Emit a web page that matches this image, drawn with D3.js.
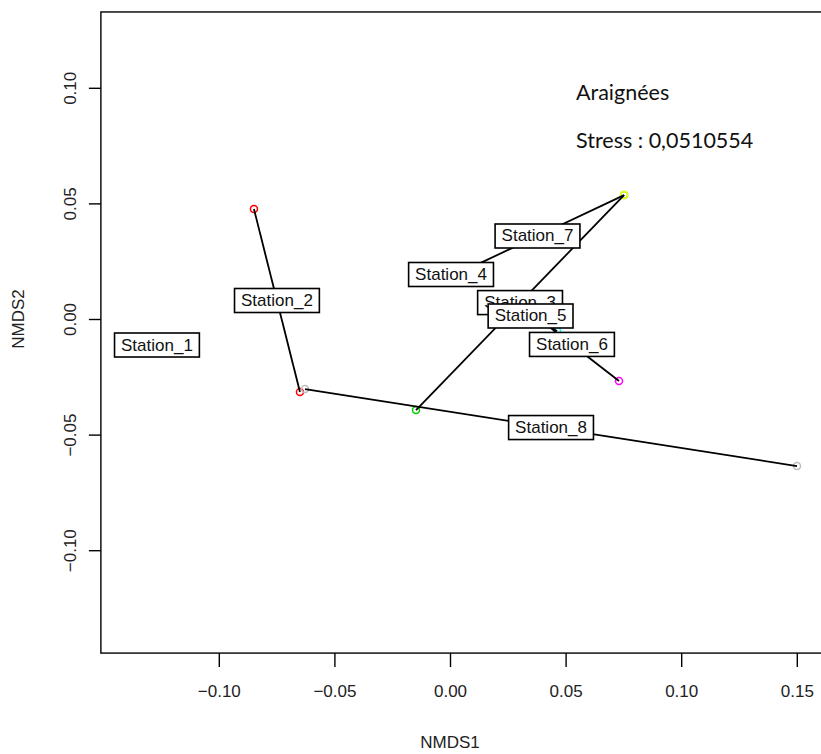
<!DOCTYPE html>
<html>
<head>
<meta charset="utf-8">
<script src="https://cdn.jsdelivr.net/npm/d3@7/dist/d3.min.js"></script>
<style>
  html, body { margin: 0; padding: 0; background: #fff; }
  svg { display: block; }
</style>
</head>
<body>
<div id="chart"></div>
<script>
// ---- data ----
const stations = ["Station_1","Station_2","Station_3","Station_4","Station_5","Station_6","Station_7","Station_8"];
const stationColors = ["black","red","#00CD00","blue","cyan","magenta","yellow","#BEBEBE"];
const sampleStation = [0,0, 1,1, 2,2, 3,3, 4,4, 5,5, 6,6, 7,7];
const nmds1 = [-0.1298,-0.1237, -0.0848,-0.0649, -0.0147,0.0753, -0.0039,0.0048, 0.0463,0.0234, 0.0731,0.0324, 0.0753,0.0004, -0.0627,0.1501];
const nmds2 = [-0.0108,-0.0117, 0.0476,-0.0316, -0.0394,0.0536, 0.0203,0.0182, -0.0052,0.0078, -0.0268,0.0048, 0.0536,0.0182, -0.0303,-0.0636];
const xTicks = [-0.10,-0.05,0.00,0.05,0.10,0.15];
const yTicks = [-0.10,-0.05,0.00,0.05,0.10];
const xDomain = [-0.151, 0.168];
const yDomain = [-0.1445, 0.1328];
const titleText = "Araignées";
const stressText = "Stress : 0,0510554";

// ---- layout ----
const W = 821, H = 754;
const x0 = 450, y0 = 319, k = 2312;
const x = d3.scaleLinear().domain(xDomain).range([x0 + xDomain[0]*k, x0 + xDomain[1]*k]);
const y = d3.scaleLinear().domain(yDomain).range([y0 - yDomain[0]*k, y0 - yDomain[1]*k]);

const svg = d3.select("#chart").append("svg").attr("width", W).attr("height", H)
  .style("font-family", "'Liberation Sans', Arial, sans-serif");

const fmt = d3.format(".2f");
const axisFont = 17;

// frame
svg.append("rect")
  .attr("x", x(xDomain[0])).attr("y", y(yDomain[1]))
  .attr("width", x(xDomain[1]) - x(xDomain[0]))
  .attr("height", y(yDomain[0]) - y(yDomain[1]))
  .attr("fill", "none").attr("stroke", "black").attr("stroke-width", 1.4);

// x axis
const xAxis = d3.axisBottom(x).tickValues(xTicks).tickFormat(fmt).tickSize(14).tickPadding(18);
const gx = svg.append("g").attr("transform", `translate(0,${y(yDomain[0])})`).call(xAxis);
gx.select(".domain").remove();
gx.selectAll("line").attr("stroke", "black").attr("stroke-width", 1.4);
gx.selectAll("text").attr("font-size", axisFont).attr("fill", "#222").attr("font-family", "'Liberation Sans', Arial, sans-serif");

// y axis
const yAxis = d3.axisLeft(y).tickValues(yTicks).tickFormat(fmt).tickSize(12).tickPadding(0);
const gy = svg.append("g").attr("transform", `translate(${x(xDomain[0])},0)`).call(yAxis);
gy.select(".domain").remove();
gy.selectAll("line").attr("stroke", "black").attr("stroke-width", 1.4);
gy.selectAll("text")
  .attr("font-size", axisFont).attr("fill", "#222").attr("font-family", "'Liberation Sans', Arial, sans-serif")
  .attr("x", 0).attr("y", 0).attr("dy", null)
  .attr("text-anchor", "middle")
  .attr("dominant-baseline", "central")
  .attr("transform", "translate(-30,0) rotate(-90)");

// axis titles
svg.append("text").attr("x", x(0)).attr("y", 748).attr("text-anchor", "middle")
  .attr("font-size", axisFont).attr("fill", "#222").text("NMDS1");
svg.append("text").attr("transform", `translate(24,${y(0)}) rotate(-90)`)
  .attr("text-anchor", "middle").attr("font-size", axisFont).attr("fill", "#222").text("NMDS2");

// samples
const samples = nmds1.map((v, i) => ({ x: v, y: nmds2[i], s: sampleStation[i] }));
const centroids = stations.map((name, si) => {
  const pts = samples.filter(p => p.s === si);
  return { name, x: d3.mean(pts, p => p.x), y: d3.mean(pts, p => p.y) };
});

// points (pch = 1)
svg.append("g").selectAll("circle").data(samples).join("circle")
  .attr("cx", d => x(d.x)).attr("cy", d => y(d.y)).attr("r", 3.5)
  .attr("fill", "none").attr("stroke", d => stationColors[d.s]).attr("stroke-width", 1.5);

// spider lines
svg.append("g").selectAll("line").data(samples).join("line")
  .attr("x1", d => x(centroids[d.s].x)).attr("y1", d => y(centroids[d.s].y))
  .attr("x2", d => x(d.x)).attr("y2", d => y(d.y))
  .attr("stroke", "black").attr("stroke-width", 1.8);

// labels
const lab = svg.append("g");
centroids.forEach(c => {
  const g = lab.append("g").attr("transform", `translate(${x(c.x)},${y(c.y)})`);
  const rect = g.append("rect");
  const t = g.append("text").attr("text-anchor", "middle").attr("dominant-baseline", "central")
    .attr("font-size", 17).attr("fill", "#111").text(c.name);
  const w = t.node().getComputedTextLength() + 13;
  const h = 24;
  rect.attr("x", -w/2).attr("y", -h/2).attr("width", w).attr("height", h)
    .attr("fill", "white").attr("stroke", "black").attr("stroke-width", 1.6);
});

// annotation
const annFont = "Lato, 'Open Sans', sans-serif";
svg.append("text").attr("x", 576).attr("y", 100).attr("font-family", annFont)
  .attr("font-size", 21.5).attr("fill", "#111").text(titleText);
svg.append("text").attr("x", 576).attr("y", 148).attr("font-family", annFont)
  .attr("font-size", 21.5).attr("fill", "#111").text(stressText);
</script>
</body>
</html>
